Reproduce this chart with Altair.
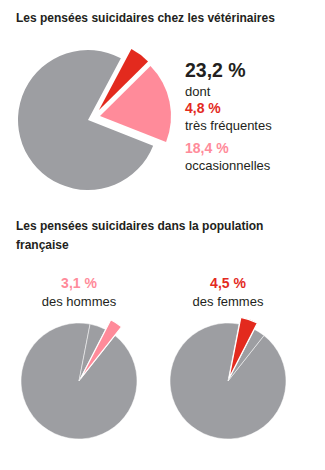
import math
import altair as alt
import pandas as pd

# ---------------- data ----------------
vet_categories = ["très fréquentes", "occasionnelles", "pas de pensées"]
vet_values = [4.8, 18.4, 76.8]

pop_categories = ["femmes", "hommes", "autres"]
pop_values = [4.5, 3.1, 92.4]

title_vet = "Les pensées suicidaires chez les vétérinaires"
title_pop_lines = ["Les pensées suicidaires dans la population", "française"]
vet_total_label = "23,2 %"
vet_labels = ["dont", "4,8 %", "très fréquentes", "18,4 %", "occasionnelles"]
pop_pct_labels = ["3,1 %", "4,5 %"]
pop_group_labels = ["des hommes", "des femmes"]

# ---------------- styles ----------------
GRAY = "#9d9ea2"
RED = "#e32a1e"
PINK = "#ff8b9a"
DARK = "#231f20"
FONT = "Liberation Sans, Arial, sans-serif"

vet_df = pd.DataFrame({"category": vet_categories, "value": vet_values,
                       "idx": list(range(len(vet_values)))})
pop_df = pd.DataFrame({"category": pop_categories, "value": pop_values,
                       "idx": list(range(len(pop_values)))})


def slice_layer(df, cat, color, cx, cy, r, start_deg, dx=0, dy=0, sw=0.0):
    a0 = math.radians(start_deg)
    return (
        alt.Chart(df)
        .transform_window(cum="sum(value)", sort=[alt.SortField("idx")], frame=[None, 0])
        .transform_calculate(start="datum.cum - datum.value")
        .transform_filter(alt.datum.category == cat)
        .mark_arc(x=cx, y=cy, outerRadius=r, xOffset=dx, yOffset=dy,
                  fill=color, stroke="white", strokeWidth=sw)
        .encode(
            theta=alt.Theta("start:Q", scale=alt.Scale(domain=[0, 100], range=[a0, a0 + 2 * math.pi])),
            theta2="cum:Q",
        )
    )


def text_layer(txt, x, y, size, color=DARK, weight="normal", align="left"):
    return (
        alt.Chart(pd.DataFrame({"t": [txt]}))
        .mark_text(x=x, y=y, align=align, baseline="alphabetic", fontSize=size,
                   font=FONT, fontWeight=weight, color=color)
        .encode(text="t:N")
    )


layers = []
# big pie
BX, BY, BR, BSTART = 88, 120, 70, 28
layers.append(slice_layer(vet_df, vet_categories[2], GRAY, BX, BY, BR, BSTART))
layers.append(slice_layer(vet_df, vet_categories[0], RED, BX, BY, 69, BSTART, 11, -10))
layers.append(slice_layer(vet_df, vet_categories[1], PINK, BX, BY, 71, BSTART, 12, -4))

# small pies
SY, SR, SSTART = 381, 58, 11
LX, RX = 79, 228
# left: hommes
layers.append(slice_layer(pop_df, pop_categories[2], GRAY, LX, SY, SR, SSTART, sw=0.5))
layers.append(slice_layer(pop_df, pop_categories[0], GRAY, LX, SY, SR, SSTART, sw=0.5))
layers.append(slice_layer(pop_df, pop_categories[1], PINK, LX, SY, 66, SSTART, 1.6, -2.5, sw=1.2))
# right: femmes
layers.append(slice_layer(pop_df, pop_categories[2], GRAY, RX, SY, SR, SSTART, sw=0.5))
layers.append(slice_layer(pop_df, pop_categories[1], GRAY, RX, SY, SR, SSTART, sw=0.5))
layers.append(slice_layer(pop_df, pop_categories[0], RED, RX, SY, 62, SSTART, 1.0, -2.8, sw=1.2))

# texts
layers.append(text_layer(title_vet, 16, 22, 12, weight="bold"))
layers.append(text_layer(vet_total_label, 185, 77, 19.5, weight="bold"))
layers.append(text_layer(vet_labels[0], 185, 95.5, 13))
layers.append(text_layer(vet_labels[1], 185, 113, 14, color=RED, weight="bold"))
layers.append(text_layer(vet_labels[2], 185, 130, 13))
layers.append(text_layer(vet_labels[3], 185, 153, 14, color=PINK, weight="bold"))
layers.append(text_layer(vet_labels[4], 185, 170, 13))

layers.append(text_layer(title_pop_lines[0], 16, 230, 12, weight="bold"))
layers.append(text_layer(title_pop_lines[1], 16, 249, 12, weight="bold"))

layers.append(text_layer(pop_pct_labels[0], 79, 288, 14, color=PINK, weight="bold", align="center"))
layers.append(text_layer(pop_group_labels[0], 79, 306, 13, align="center"))
layers.append(text_layer(pop_pct_labels[1], 228, 288, 14, color=RED, weight="bold", align="center"))
layers.append(text_layer(pop_group_labels[1], 228, 306, 13, align="center"))

chart = (
    alt.layer(*layers)
    .resolve_scale(theta="independent")
    .properties(width=325, height=470, padding=0, autosize=alt.AutoSizeParams(type="none"),
                background="white")
    .configure_view(stroke=None)
)

chart.save("out.html", embed_options={"renderer": "svg", "actions": False})
